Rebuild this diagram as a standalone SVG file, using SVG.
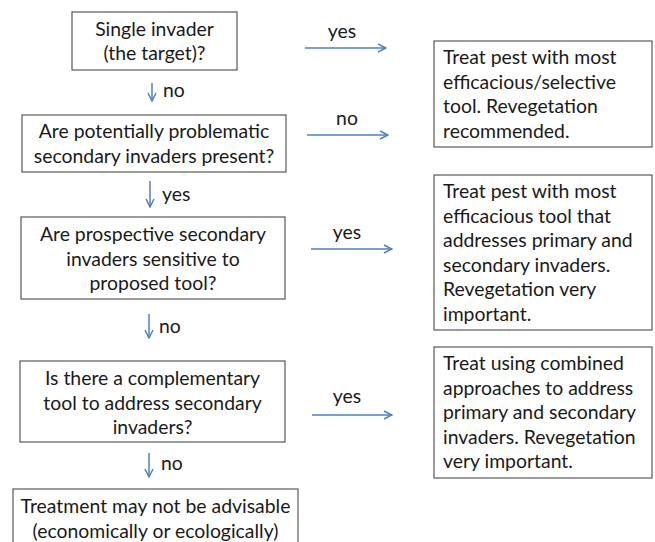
<svg xmlns="http://www.w3.org/2000/svg" width="655" height="542" viewBox="0 0 655 542">
<style>
.box{fill:#fff;stroke:#595959;stroke-width:1.2}
text{font-family:Lato,"Liberation Sans",sans-serif;font-size:19.4px;fill:#1a1a1a}
.c{text-anchor:middle}
.ln{stroke:#4f81bd;stroke-width:1.5;fill:none}
</style>
<defs>
<marker id="ah" viewBox="0 0 10 10" refX="9" refY="5" markerWidth="10" markerHeight="10" markerUnits="userSpaceOnUse" orient="auto">
<path d="M1,1 L9,5 L1,9" fill="none" stroke="#4f81bd" stroke-width="1.5"/>
</marker>
</defs>
<rect width="655" height="542" fill="#fff"/>
<g id="q1"><rect class="box" x="72" y="12" width="165" height="58"/>
<text class="c" x="154.5" y="36">Single invader</text><text class="c" x="154.5" y="60">(the target)?</text></g>
<g id="q2"><rect class="box" x="22" y="115" width="264" height="57"/>
<text class="c" x="154" y="138">Are potentially problematic</text><text class="c" x="154" y="163">secondary invaders present?</text></g>
<g id="q3"><rect class="box" x="21" y="217" width="264" height="82"/>
<text class="c" x="153" y="241">Are prospective secondary</text><text class="c" x="153" y="265.5">invaders sensitive to</text><text class="c" x="153" y="290">proposed tool?</text></g>
<g id="q4"><rect class="box" x="20" y="361" width="265" height="81"/>
<text class="c" x="152.5" y="385">Is there a complementary</text><text class="c" x="152.5" y="409.5">tool to address secondary</text><text class="c" x="152.5" y="434">invaders?</text></g>
<g id="r5"><rect class="box" x="13" y="489" width="285" height="70"/>
<text class="c" x="155.5" y="513">Treatment may not be advisable</text><text class="c" x="155.5" y="537.5">(economically or ecologically)</text></g>
<g id="r1"><rect class="box" x="434" y="41" width="218" height="106"/>
<text x="443" y="64">Treat pest with most</text><text x="443" y="88.5">efficacious/selective</text><text x="443" y="113">tool. Revegetation</text><text x="443" y="137.5">recommended.</text></g>
<g id="r2"><rect class="box" x="434" y="175" width="218" height="155"/>
<text x="443" y="198">Treat pest with most</text><text x="443" y="222.5">efficacious tool that</text><text x="443" y="247">addresses primary and</text><text x="443" y="271.5">secondary invaders.</text><text x="443" y="296">Revegetation very</text><text x="443" y="320.5">important.</text></g>
<g id="r3"><rect class="box" x="434" y="347" width="218" height="131"/>
<text x="443" y="370">Treat using combined</text><text x="443" y="394.5">approaches to address</text><text x="443" y="419">primary and secondary</text><text x="443" y="443.5">invaders. Revegetation</text><text x="443" y="468">very important.</text></g>
<g id="connectors">
<line class="ln" x1="152" y1="83" x2="152" y2="101" marker-end="url(#ah)"/>
<text x="163" y="97">no</text>
<line class="ln" x1="150" y1="181" x2="150" y2="207" marker-end="url(#ah)"/>
<text x="162" y="201">yes</text>
<line class="ln" x1="149" y1="314" x2="149" y2="338" marker-end="url(#ah)"/>
<text x="159" y="333">no</text>
<line class="ln" x1="149" y1="453" x2="149" y2="477" marker-end="url(#ah)"/>
<text x="161" y="470">no</text>
<line class="ln" x1="305" y1="48" x2="386" y2="48" marker-end="url(#ah)"/>
<text class="c" x="342" y="38">yes</text>
<line class="ln" x1="307" y1="135" x2="388" y2="135" marker-end="url(#ah)"/>
<text class="c" x="347" y="125">no</text>
<line class="ln" x1="311" y1="249" x2="392" y2="249" marker-end="url(#ah)"/>
<text class="c" x="347" y="239">yes</text>
<line class="ln" x1="312" y1="415" x2="392" y2="415" marker-end="url(#ah)"/>
<text class="c" x="347" y="403">yes</text>
</g>
</svg>
